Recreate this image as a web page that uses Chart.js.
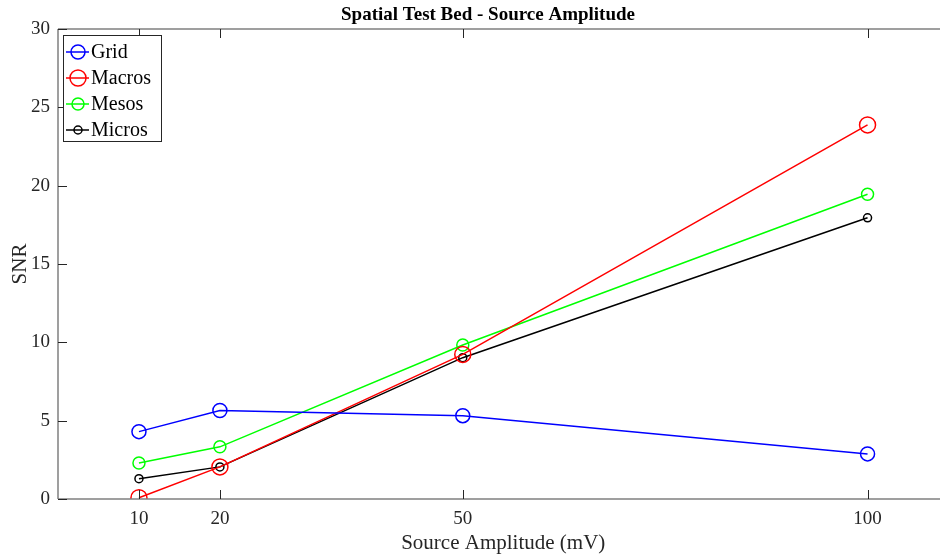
<!DOCTYPE html>
<html>
<head>
<meta charset="utf-8">
<script src="https://cdn.jsdelivr.net/npm/chart.js@4/dist/chart.umd.min.js"></script>
<style>
  body { margin: 0; background: #fff; overflow: hidden; }
  #wrap { width: 958px; height: 555px; position: relative; }
</style>
</head>
<body>
<div id="wrap"><canvas id="chart" width="958" height="555"></canvas></div>
<script>
const amplitudes = [10, 20, 50, 100];
const gridSnr = [4.3, 5.65, 5.32, 2.88];
const macrosSnr = [0.08, 2.05, 9.23, 23.88];
const mesosSnr = [2.3, 3.33, 9.83, 19.45];
const microsSnr = [1.3, 2.05, 9.02, 17.95];
const xTicks = [10, 20, 50, 100];
const yTicks = [0, 5, 10, 15, 20, 25, 30];

const FONT = '"Liberation Serif", "DejaVu Serif", serif';
const AXIS = '#808080';
const TEXT = '#262626';

function series(label, values, color, radius) {
    return {
        label: label,
        data: amplitudes.map((a, i) => ({x: a, y: values[i]})),
        borderColor: color,
        backgroundColor: 'transparent',
        borderWidth: 1.5,
        pointRadius: radius,
        pointHoverRadius: radius,
        pointBorderWidth: 1.5,
        pointBorderColor: color,
        pointBackgroundColor: 'transparent',
        tension: 0
    };
}

// axes box, inward ticks, titles, legend
const decor = {
    id: 'decor',
    afterDraw(chart) {
        const ctx = chart.ctx;
        const a = chart.chartArea;
        const xs = chart.scales.x, ys = chart.scales.y;
        ctx.save();
        ctx.strokeStyle = AXIS;
        ctx.lineWidth = 1.5;
        ctx.beginPath();
        ctx.moveTo(a.left, a.bottom); ctx.lineTo(a.right, a.bottom);
        ctx.moveTo(a.left, a.top); ctx.lineTo(a.right, a.top);
        ctx.moveTo(a.left, a.top); ctx.lineTo(a.left, a.bottom);
        ctx.stroke();

        ctx.strokeStyle = TEXT;
        ctx.lineWidth = 1;
        ctx.beginPath();
        xTicks.forEach(v => {
            const px = Math.round(xs.getPixelForValue(v)) + 0.5;
            ctx.moveTo(px, a.bottom); ctx.lineTo(px, a.bottom - 9);
            ctx.moveTo(px, a.top); ctx.lineTo(px, a.top + 9);
        });
        yTicks.forEach(v => {
            const py = Math.round(ys.getPixelForValue(v)) + 0.5;
            ctx.moveTo(a.left, py); ctx.lineTo(a.left + 9, py);
        });
        ctx.stroke();

        ctx.fillStyle = '#000';
        ctx.textAlign = 'center';
        ctx.textBaseline = 'middle';
        ctx.font = 'bold 19px ' + FONT;
        ctx.fillText('Spatial Test Bed - Source Amplitude', 488, 15);
        ctx.fillStyle = TEXT;
        ctx.font = '21px ' + FONT;
        ctx.fillText('Source Amplitude (mV)', (a.left + a.right) / 2, 543);
        ctx.save();
        ctx.translate(20, (a.top + a.bottom) / 2);
        ctx.rotate(-Math.PI / 2);
        ctx.fillText('SNR', 0, 0);
        ctx.restore();

        // legend
        const lx = a.left + 5, ly = a.top + 6, lw = 98, rowH = 26;
        ctx.fillStyle = '#fff';
        ctx.fillRect(lx, ly, lw, rowH * 4 + 2);
        ctx.strokeStyle = '#262626';
        ctx.lineWidth = 1;
        ctx.strokeRect(lx + 0.5, ly + 0.5, lw, rowH * 4 + 2);
        chart.data.datasets.forEach((ds, i) => {
            const cy = ly + 17 + i * rowH;
            ctx.strokeStyle = ds.borderColor;
            ctx.lineWidth = 1.5;
            ctx.beginPath();
            ctx.moveTo(lx + 3, cy); ctx.lineTo(lx + 26, cy);
            ctx.stroke();
            ctx.beginPath();
            ctx.arc(lx + 15, cy, ds.pointRadius, 0, Math.PI * 2);
            ctx.stroke();
            ctx.fillStyle = '#000';
            ctx.textAlign = 'left';
            ctx.font = '20px ' + FONT;
            ctx.fillText(ds.label, lx + 28, cy + 1);
        });
        ctx.restore();
    }
};

new Chart(document.getElementById('chart').getContext('2d'), {
    type: 'line',
    data: {
        datasets: [
            series('Grid', gridSnr, '#0000ff', 7),
            series('Macros', macrosSnr, '#ff0000', 8),
            series('Mesos', mesosSnr, '#00ff00', 6),
            series('Micros', microsSnr, '#000000', 4)
        ]
    },
    options: {
        responsive: false,
        animation: false,
        layout: { padding: { top: 29, right: 2, left: 0, bottom: 0 } },
        plugins: { legend: { display: false }, title: { display: false }, tooltip: { enabled: false } },
        scales: {
            x: {
                type: 'linear',
                min: 0,
                max: 110,
                afterBuildTicks: scale => { scale.ticks = xTicks.map(v => ({value: v})); },
                afterFit: scale => { scale.height = 56; },
                grid: { display: false },
                border: { display: false },
                ticks: { color: TEXT, font: { family: FONT, size: 19 }, padding: 1, maxRotation: 0 }
            },
            y: {
                min: 0,
                max: 30,
                afterBuildTicks: scale => { scale.ticks = yTicks.map(v => ({value: v})); },
                afterFit: scale => { scale.width = 58; },
                grid: { display: false },
                border: { display: false },
                ticks: { color: TEXT, font: { family: FONT, size: 19 }, padding: 0 }
            }
        }
    },
    plugins: [decor]
});
</script>
</body>
</html>
